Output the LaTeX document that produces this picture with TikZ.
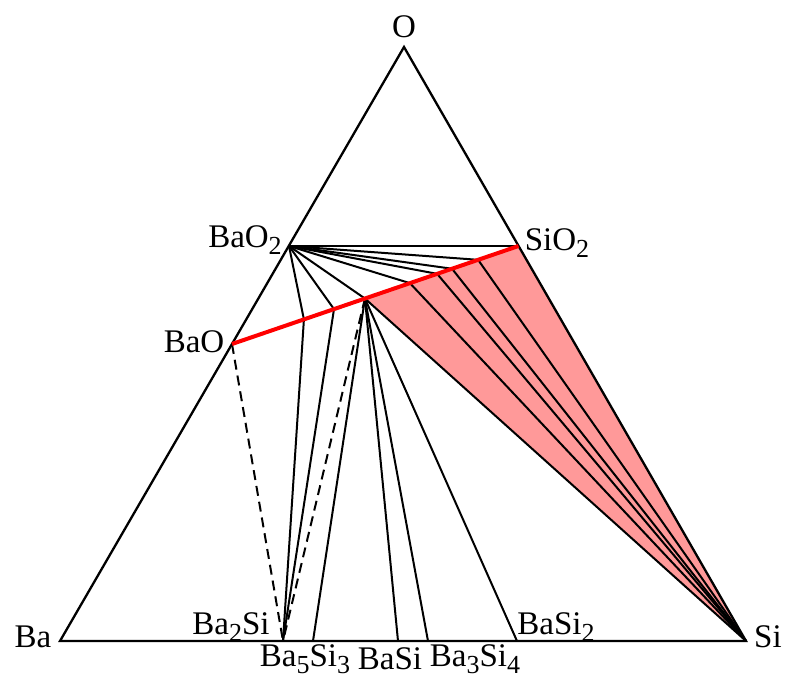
\documentclass[tikz,border=0pt]{standalone}
\usepackage{fontspec}
\setmainfont{Liberation Serif}
\usetikzlibrary{calc}
\newcommand{\lowsub}[1]{\raisebox{-7pt}{\fontsize{26}{26}\selectfont #1}}
\definecolor{pinkfill}{RGB}{255,153,153}
\tikzset{
  edgeline/.style={line width=2.3pt, black, line join=miter},
  tie/.style={line width=2pt, black},
  dashtie/.style={line width=2pt, black, dash pattern=on 10pt off 6pt},
  redline/.style={line width=4pt, red},
  lab/.style={font=\fontsize{33}{33}\selectfont, inner sep=0pt},
}
\begin{document}
\begin{tikzpicture}[x=1pt,y=-1pt]
\useasboundingbox (0,0) rectangle (788,681);
% corners
\coordinate (O) at (404,47);
\coordinate (Ba) at (60,641);
\coordinate (Si) at (746,641);
\coordinate (BaO2) at (289,246);
\coordinate (SiO2) at (518.5,246);
\coordinate (BaO) at (232,344);
% points on BaO--SiO2
\coordinate (Pa) at ($(BaO)!0.251!(SiO2)$);
\coordinate (Pb) at ($(BaO)!0.356!(SiO2)$);
\coordinate (X)  at ($(BaO)!0.464!(SiO2)$);
\coordinate (P4) at ($(BaO)!0.621!(SiO2)$);
\coordinate (P5) at ($(BaO)!0.716!(SiO2)$);
\coordinate (P6) at ($(BaO)!0.768!(SiO2)$);
\coordinate (P7) at ($(BaO)!0.859!(SiO2)$);
% points on Ba--Si
\coordinate (Ba2Si) at (283,641);
\coordinate (Ba5Si3) at (313,641);
\coordinate (BaSi) at (398,641);
\coordinate (Ba3Si4) at (428,641);
\coordinate (BaSi2) at (517,641);
% shaded region
\fill[pinkfill] (X) -- (SiO2) -- (Si) -- cycle;
% tie lines from BaO2
\foreach \p in {Pa,Pb,X,P4,P5,P6,P7,SiO2} \draw[tie] (BaO2) -- (\p);
% tie lines to Si
\foreach \p in {X,P4,P5,P6,P7} \draw[tie] (\p) -- (Si);
% tie lines to Ba2Si
\draw[tie] (Pa) -- (Ba2Si);
\draw[tie] (Pb) -- (Ba2Si);
\draw[dashtie] (X) -- (Ba2Si);
\draw[dashtie] (BaO) -- (Ba2Si);
% tie lines from X to silicides
\foreach \p in {Ba5Si3,BaSi,Ba3Si4,BaSi2} \draw[tie] (X) -- (\p);
% triangle
\draw[edgeline] (Ba) -- (O) -- (Si) -- cycle;
% red line
\draw[redline] (BaO) -- (SiO2);
% labels
\node[lab] (lO) at (404,27) {O};
\node[lab] (lBaO2) at (245,240) {BaO\lowsub{2}};
\node[lab] (lSiO2) at (557,243) {SiO\lowsub{2}};
\node[lab] (lBaO) at (194,342) {BaO};
\node[lab] (lBa) at (33,637) {Ba};
\node[lab] (lSi) at (768,637) {Si};
\node[lab] (lBa2Si) at (231,627) {Ba\lowsub{2}Si};
\node[lab] (lBaSi2) at (556,627) {BaSi\lowsub{2}};
\node[lab] (lBa5Si3) at (305,659) {Ba\lowsub{5}Si\lowsub{3}};
\node[lab] (lBaSi) at (390,659) {BaSi};
\node[lab] (lBa3Si4) at (475,659) {Ba\lowsub{3}Si\lowsub{4}};
\end{tikzpicture}
\end{document}
